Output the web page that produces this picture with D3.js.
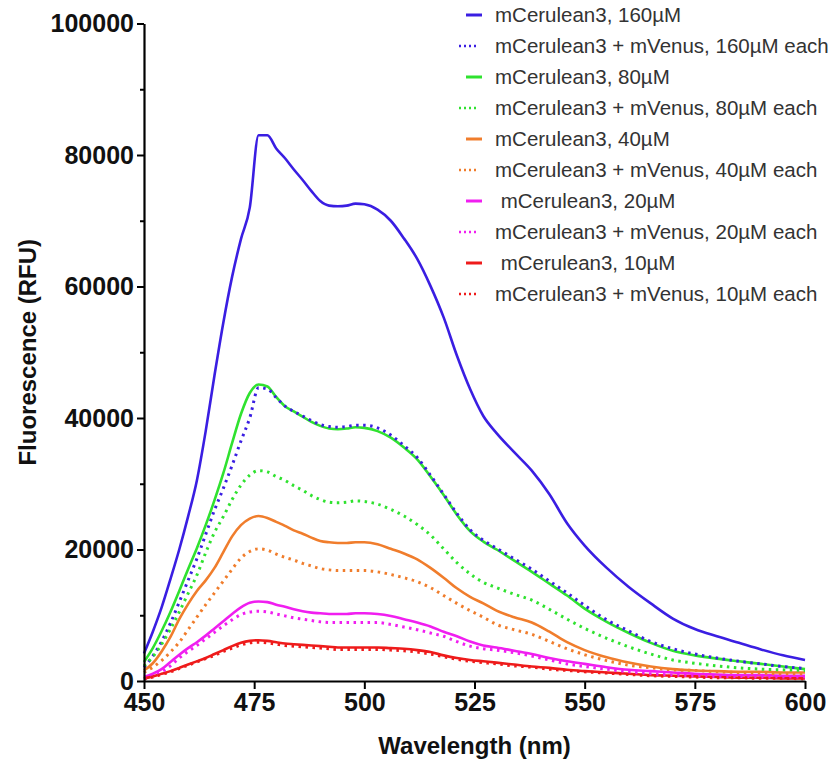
<!DOCTYPE html>
<html>
<head>
<meta charset="utf-8">
<script src="https://cdn.jsdelivr.net/npm/d3@7"></script>
<style>
  html, body { margin: 0; padding: 0; background: #fff; }
  svg { display: block; }
  text { font-family: "Liberation Sans", Arial, Helvetica, sans-serif; }
</style>
</head>
<body>
<svg id="chart" width="836" height="761"></svg>
<script>
// ---------- DATA ----------
const wavelengths = [450,452,454,456,458,460,462,464,466,468,470,472,474,476,478,480,482,484,486,488,490,492,494,496,498,500,503,506,509,512,515,518,521,524,527,530,534,538,542,546,550,555,560,565,570,575,580,585,590,595,600];

const cer160 = [4200,7500,11200,15500,20000,25000,30500,38000,46500,54500,61500,67200,72000,83000,83000,81000,79500,77800,76200,74500,73000,72300,72200,72300,72600,72500,71700,70000,67300,64200,60100,55300,49500,44400,40300,37700,34800,32000,28400,24000,20600,17200,14300,11800,9500,7900,6800,5800,4800,3900,3200];
const mix160 = [2100,3800,6000,8800,12000,15300,18600,22300,26000,29300,32800,36500,40000,44600,44400,43100,41800,41000,40300,39600,39000,38700,38600,38700,38900,38900,38500,37400,35800,34000,31300,28400,25500,23000,21400,20200,18600,17000,15200,13400,11500,9300,7600,6000,4900,4100,3500,3000,2600,2200,1900];
const cer80  = [2900,5000,7600,10500,13700,17000,20200,23700,27500,31600,36200,40600,43800,45100,44800,43200,41800,41000,40200,39400,38800,38400,38300,38400,38600,38500,38000,37000,35500,33700,31100,28300,25300,22800,21200,20000,18300,16600,14800,13000,11000,9000,7300,5800,4600,3900,3400,3000,2600,2200,1800];
const mix80  = [2300,3700,5600,7900,10500,13300,16100,19500,22600,25000,27600,29800,31300,32000,31800,31100,30500,29700,29000,28200,27600,27200,27100,27200,27400,27300,26900,26100,25100,23800,22200,20100,18000,16300,15000,14200,13200,12300,10900,9400,8000,6500,5200,4100,3200,2700,2300,2000,1800,1700,1600];
const cer40  = [1600,2700,4500,6700,9400,11700,13700,15300,17200,19600,22000,23700,24700,25100,24800,24200,23600,22900,22400,21800,21300,21100,21000,21000,21100,21100,20800,20100,19400,18500,17200,15700,14100,12800,11800,10700,9700,8900,7500,5900,4700,3600,2800,2200,1800,1600,1500,1400,1400,1300,1300];
const mix40  = [1300,2100,3100,4400,5900,7800,9700,11600,13400,15200,17000,18700,19700,20100,19900,19300,18800,18400,17900,17500,17100,16900,16800,16800,16800,16800,16600,16200,15700,15100,14200,13000,11800,10700,9700,8600,7800,7100,6000,4900,4000,3100,2400,2000,1700,1600,1400,1300,1200,1100,1100];
const cer20  = [600,1100,1800,2900,4000,5000,5900,6900,8000,9100,10200,11200,11900,12100,12000,11600,11300,10900,10600,10400,10300,10200,10200,10200,10300,10300,10200,9900,9400,8900,8300,7500,6800,6000,5400,5100,4600,4100,3500,3000,2600,2100,1700,1500,1300,1100,1000,900,900,800,800];
const mix20  = [300,800,1400,2300,3500,4500,5400,6400,7400,8400,9300,10100,10500,10600,10500,10200,9900,9600,9400,9200,9000,8900,8900,8900,8900,8900,8900,8600,8200,7800,7300,6800,6000,5300,4900,4700,4300,3800,3200,2600,2200,1800,1400,1100,900,800,700,700,600,600,600];
const cer10  = [400,700,1100,1500,2000,2500,3000,3500,4100,4700,5300,5800,6100,6200,6100,5900,5700,5600,5500,5400,5300,5200,5100,5100,5100,5100,5100,5000,4900,4700,4400,3900,3500,3200,3000,2800,2500,2200,2000,1700,1500,1300,1100,900,800,700,600,500,500,400,400];
const mix10  = [300,600,1000,1400,1900,2400,2900,3400,3900,4500,5000,5500,5800,5900,5800,5600,5400,5300,5200,5100,5000,4900,4800,4800,4800,4800,4800,4700,4600,4400,4100,3700,3300,3000,2800,2600,2300,2100,1800,1600,1400,1200,1000,800,700,600,500,500,400,400,300];

const seriesLabels = [
  "mCerulean3, 160µM",
  "mCerulean3 + mVenus, 160µM each",
  "mCerulean3, 80µM",
  "mCerulean3 + mVenus, 80µM each",
  "mCerulean3, 40µM",
  "mCerulean3 + mVenus, 40µM each",
  " mCerulean3, 20µM",
  "mCerulean3 + mVenus, 20µM each",
  " mCerulean3, 10µM",
  "mCerulean3 + mVenus, 10µM each"
];
const seriesValues = [cer160, mix160, cer80, mix80, cer40, mix40, cer20, mix20, cer10, mix10];

const xTicks = [450, 475, 500, 525, 550, 575, 600];
const yTicks = [0, 20000, 40000, 60000, 80000, 100000];
const yMinorTicks = [10000, 30000, 50000, 70000, 90000];

// ---------- STYLE ----------
const pairColors = ["#3a1ee2", "#2fe22f", "#f07d2c", "#f01ef0", "#ee1b1b"];
const colorOf = i => pairColors[Math.floor(i / 2)];
const isDotted = i => i % 2 === 1;

// ---------- CHART ----------
const svg = d3.select("#chart");
const x = d3.scaleLinear().domain([450, 600]).range([144, 805]);
const y = d3.scaleLinear().domain([0, 100000]).range([681, 23.5]);

const line = d3.line()
  .x((d, i) => x(wavelengths[i]))
  .y(d => y(d))
  .curve(d3.curveMonotoneX);

const plot = svg.append("g");
// solids first, then dotted on top
const order = d3.range(seriesValues.length).sort((a, b) => (isDotted(a) - isDotted(b)) || (a - b));
order.forEach(i => {
  plot.append("path")
    .datum(seriesValues[i])
    .attr("fill", "none")
    .attr("stroke", colorOf(i))
    .attr("stroke-width", isDotted(i) ? 3 : 2.6)
    .attr("stroke-dasharray", isDotted(i) ? "2.5 4.5" : null)
    .attr("stroke-linejoin", "round")
    .attr("d", line);
});

// Y axis
const yAxis = svg.append("g")
  .attr("transform", `translate(${x(450)},0)`)
  .call(d3.axisLeft(y).tickValues(yTicks).tickSize(7).tickSizeOuter(0).tickPadding(3).tickFormat(d3.format("d")));
const yMinor = svg.append("g")
  .attr("transform", `translate(${x(450)},0)`)
  .call(d3.axisLeft(y).tickValues(yMinorTicks).tickSize(4).tickSizeOuter(0).tickFormat(""));
yMinor.select(".domain").remove();

// X axis
const xAxis = svg.append("g")
  .attr("transform", `translate(0,${y(0)})`)
  .call(d3.axisBottom(x).tickValues(xTicks).tickSize(8).tickSizeOuter(0).tickPadding(4).tickFormat(d3.format("d")));

[yAxis, yMinor, xAxis].forEach(g => {
  g.selectAll(".domain").attr("stroke", "#000").attr("stroke-width", 2.2);
  g.selectAll(".tick line").attr("stroke", "#000").attr("stroke-width", 2);
});
yAxis.selectAll(".tick text")
  .attr("font-size", 25).attr("font-weight", "bold").attr("fill", "#111")
  .attr("font-family", "'Liberation Sans', Arial, sans-serif");
xAxis.selectAll(".tick text")
  .attr("font-size", 25).attr("font-weight", "bold").attr("fill", "#111")
  .attr("font-family", "'Liberation Sans', Arial, sans-serif");

// Axis titles
svg.append("text")
  .attr("transform", `translate(36,${(y(0) + y(100000)) / 2}) rotate(-90)`)
  .attr("text-anchor", "middle")
  .attr("font-size", 24).attr("font-weight", "bold").attr("fill", "#111")
  .text("Fluorescence (RFU)");
svg.append("text")
  .attr("x", (x(450) + x(600)) / 2)
  .attr("y", 754)
  .attr("text-anchor", "middle")
  .attr("font-size", 24).attr("font-weight", "bold").attr("fill", "#111")
  .text("Wavelength (nm)");

// Legend
const legend = svg.append("g");
seriesLabels.forEach((lab, i) => {
  const cy = 15 + i * 31;
  legend.append("line")
    .attr("x1", isDotted(i) ? 459 : 466).attr("x2", isDotted(i) ? 479 : 482)
    .attr("y1", cy).attr("y2", cy)
    .attr("stroke", colorOf(i))
    .attr("stroke-width", isDotted(i) ? 2.5 : 3)
    .attr("stroke-dasharray", isDotted(i) ? "2 3" : null);
  legend.append("text")
    .attr("x", 495).attr("y", cy)
    .attr("dy", "0.35em")
    .attr("font-size", 20.5).attr("fill", "#333")
    .style("white-space", "pre")
    .text(lab);
});
</script>
</body>
</html>
